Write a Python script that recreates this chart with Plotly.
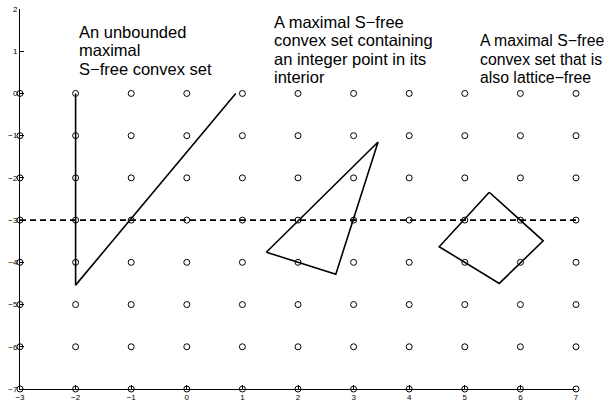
import plotly.graph_objects as go

# Tick values
x_ticks = [-3, -2, -1, 0, 1, 2, 3, 4, 5, 6, 7]
y_ticks = [-7, -6, -5, -4, -3, -2, -1, 0, 1, 2]

# Integer lattice points drawn as open circles
lattice_x = [-3, -2, -1, 0, 1, 2, 3, 4, 5, 6, 7]
lattice_y = [-7, -6, -5, -4, -3, -2, -1, 0]

# Hyperplane (dashed line)
dash_x = [-3, 7]
dash_y = [-3, -3]

# Unbounded maximal S-free convex set (truncated)
unb_x = [-2, -2, 0.88]
unb_y = [0, -4.54, 0]

# Triangle containing an integer point in its interior
tri_x = [1.43, 3.44, 2.68, 1.43]
tri_y = [-3.76, -1.15, -4.28, -3.76]

# Lattice-free quadrilateral
quad_x = [5.44, 6.41, 5.62, 4.54, 5.44]
quad_y = [-2.34, -3.49, -4.50, -3.63, -2.34]

# Annotation texts (one list of lines per label)
labels = [
    ["An unbounded", "maximal", "S\u2212free convex set"],
    ["A maximal S\u2212free", "convex set containing", "an integer point in its", "interior"],
    ["A maximal S\u2212free", "convex set that is", "also lattice\u2212free"],
]
label_x = [-1.97, 1.54, 5.23]
label_y = [1.467, 1.70, 1.245]

FONT = "Liberation Sans, Arial, Helvetica, sans-serif"
LINE_GAP = 18.5
LABEL_SIZES = [16.5, 16.5, 15.8]

fig = go.Figure()

pts_x = [x for y in lattice_y for x in lattice_x]
pts_y = [y for y in lattice_y for x in lattice_x]
fig.add_trace(go.Scatter(
    x=pts_x, y=pts_y, mode="markers", cliponaxis=False,
    marker=dict(symbol="circle-open", size=6, color="black", line=dict(width=1)),
    hoverinfo="skip", showlegend=False,
))

fig.add_trace(go.Scatter(x=dash_x, y=dash_y, mode="lines", cliponaxis=False,
                         line=dict(color="black", width=1.6, dash="6px,4px"),
                         showlegend=False))
for xs, ys in [(unb_x, unb_y), (tri_x, tri_y), (quad_x, quad_y)]:
    fig.add_trace(go.Scatter(x=xs, y=ys, mode="lines", cliponaxis=False,
                             line=dict(color="black", width=1.6),
                             showlegend=False))

for lines, ax, ay, fs in zip(labels, label_x, label_y, LABEL_SIZES):
    for i, t in enumerate(lines):
        fig.add_annotation(x=ax, y=ay, xref="x", yref="y", text=t, showarrow=False,
                           xanchor="left", yanchor="middle", align="left",
                           yshift=-LINE_GAP * i,
                           font=dict(family=FONT, size=fs, color="black"))

def fmt(v):
    return str(v).replace("-", "\u2212")

fig.update_xaxes(range=[-3, 7], tickvals=x_ticks, ticktext=[fmt(v) for v in x_ticks],
                 showgrid=False, zeroline=False, showline=True, linecolor="black", linewidth=1,
                 ticks="inside", ticklen=4, tickcolor="black", automargin=False,
                 tickfont=dict(family=FONT, size=8, color="black"))
fig.update_yaxes(range=[-7, 2], tickvals=y_ticks, ticktext=[fmt(v) for v in y_ticks],
                 showgrid=False, zeroline=False, showline=True, linecolor="black", linewidth=1,
                 ticks="inside", ticklen=4, tickcolor="black", automargin=False,
                 tickfont=dict(family=FONT, size=8, color="black"))

fig.update_layout(
    width=613, height=400,
    margin=dict(l=19.5, r=36.6, t=9.3, b=10.7, autoexpand=False),
    paper_bgcolor="white", plot_bgcolor="white",
    showlegend=False,
)

fig.write_html("out.html", config={"displayModeBar": False},
               post_script="document.body.style.margin='0';")
